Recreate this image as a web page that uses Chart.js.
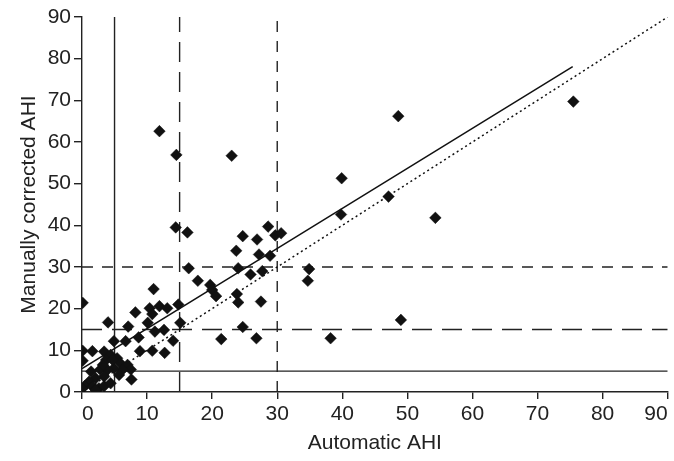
<!DOCTYPE html>
<html>
<head>
<meta charset="utf-8">
<script src="https://cdn.jsdelivr.net/npm/chart.js@4/dist/chart.umd.min.js"></script>
<style>
  html, body { margin: 0; padding: 0; background: #fff; }
  #wrap { width: 674px; height: 461px; }
</style>
</head>
<body>
<div id="wrap"><canvas id="chart"></canvas></div>
<script>
// values
const autoAHI = [
    11.9, 14.5, 23.0, 48.6, 75.5, 39.9, 39.8, 47.1, 54.3, 49.0, 38.2,
    14.4, 16.2, 16.4, 17.8, 19.7, 11.0,
    23.7, 24.7, 26.9, 28.6, 29.7, 30.6, 27.2, 28.9, 24.0, 25.9, 27.7, 34.9, 34.7, 27.5, 26.8,
    20.0, 20.6, 21.4, 23.8, 24.0, 24.7, 14.0,
    0.1, 8.2, 4.0, 10.4, 10.8, 11.9, 13.1, 14.8, 15.1, 10.1, 11.2, 7.1, 12.6, 8.7, 6.7, 4.9,
    10.8, 12.7, 8.9, 0.1, 1.6, 0.1, 7.6,
    3.4, 4.4, 5.4, 3.7, 5.9, 7.0, 7.5, 6.2, 4.9, 3.9, 2.8, 1.4, 5.7, 3.4, 2.1, 1.1,
    0.4, 1.6, 2.6, 3.4, 0.0, 4.4, 2.1, 4.7, 3.2
];
const manualAHI = [
    62.6, 56.9, 56.7, 66.2, 69.7, 51.3, 42.6, 46.9, 41.8, 17.3, 12.9,
    39.5, 38.3, 29.7, 26.7, 25.7, 24.7,
    33.9, 37.4, 36.6, 39.7, 37.6, 38.1, 33.0, 32.7, 29.7, 28.2, 29.0, 29.5, 26.7, 21.7, 12.9,
    24.5, 23.0, 12.7, 23.5, 21.5, 15.6, 12.3,
    21.4, 19.1, 16.7, 20.1, 18.7, 20.6, 20.1, 21.0, 16.6, 16.6, 14.5, 15.7, 14.9, 13.1, 12.2, 12.2,
    9.9, 9.4, 9.8, 9.9, 9.8, 7.5, 3.0,
    9.7, 8.9, 8.1, 7.7, 6.9, 6.5, 5.4, 5.3, 5.7, 5.3, 5.4, 4.9, 4.1, 3.7, 3.3, 2.5,
    1.4, 1.3, 0.9, 1.4, 0.9, 2.1, 0.5, 7.7, 6.5
];

// AHI cut-offs: 5 solid, 15 long dash, 30 short dash
const cutoffs = [5, 15, 30];
const cutoffDash = [[], [20, 10], [11, 9]];

// regression line end points and line of identity
const fitX = [0, 75.4];
const fitY = [5.6, 78.1];
const identityXY = [0, 90];

const axisMin = 0;
const axisMax = 90;
const axisStep = 10;

const ink = '#222';
const font = { family: '"Liberation Sans", Arial, sans-serif', size: 21 };

const datasets = [];

datasets.push({
    type: 'scatter',
    data: autoAHI.map((x, i) => ({ x: x, y: manualAHI[i] })),
    pointStyle: 'rectRot',
    pointRadius: 5.8,
    pointBorderWidth: 0.5,
    backgroundColor: '#111',
    borderColor: '#111',
    order: 0
});

cutoffs.forEach((c, i) => {
    // vertical
    datasets.push({
        type: 'line',
        data: [{ x: c, y: axisMin }, { x: c, y: axisMax }],
        borderColor: ink, borderWidth: 1.4, borderDash: cutoffDash[i],
        pointRadius: 0, fill: false, order: 2
    });
    // horizontal
    datasets.push({
        type: 'line',
        data: [{ x: axisMin, y: c }, { x: axisMax, y: c }],
        borderColor: ink, borderWidth: 1.4, borderDash: cutoffDash[i],
        pointRadius: 0, fill: false, order: 2
    });
});

datasets.push({
    type: 'line',
    data: fitX.map((x, i) => ({ x: x, y: fitY[i] })),
    borderColor: '#111', borderWidth: 1.5,
    pointRadius: 0, fill: false, order: 1
});

datasets.push({
    type: 'line',
    data: identityXY.map(v => ({ x: v, y: v })),
    borderColor: '#111', borderWidth: 1.5, borderDash: [2, 3],
    pointRadius: 0, fill: false, order: 1
});

new Chart(document.getElementById('chart'), {
    data: { datasets: datasets },
    options: {
        responsive: true,
        maintainAspectRatio: false,
        animation: false,
        layout: { padding: { top: 17, right: 3, left: 0, bottom: 0 } },
        plugins: { legend: { display: false }, tooltip: { enabled: false } },
        scales: {
            x: {
                type: 'linear',
                min: axisMin, max: axisMax,
                border: { display: true, color: ink, width: 1.4 },
                grid: { display: true, drawOnChartArea: false, drawTicks: true, tickLength: 7, color: ink, lineWidth: 1.4 },
                ticks: { stepSize: axisStep, color: ink, font: font, padding: 3, align: 'inner', maxRotation: 0 },
                title: { display: true, text: 'Automatic AHI', color: ink, font: font, padding: { top: 4, bottom: 5 } },
                afterFit: s => { s.height = 69; s.paddingLeft = 0; s.paddingRight = 0; }
            },
            y: {
                type: 'linear',
                min: axisMin, max: axisMax,
                border: { display: true, color: ink, width: 1.4 },
                grid: { display: true, drawOnChartArea: false, drawTicks: true, tickLength: 8, color: ink, lineWidth: 1.4 },
                ticks: { stepSize: axisStep, color: ink, font: font, padding: 3 },
                title: { display: true, text: 'Manually corrected AHI', color: ink, font: font, padding: { top: 17, bottom: 4 } },
                afterFit: s => { s.width = 82; s.paddingTop = 0; s.paddingBottom = 0; }
            }
        }
    }
});
</script>
</body>
</html>
